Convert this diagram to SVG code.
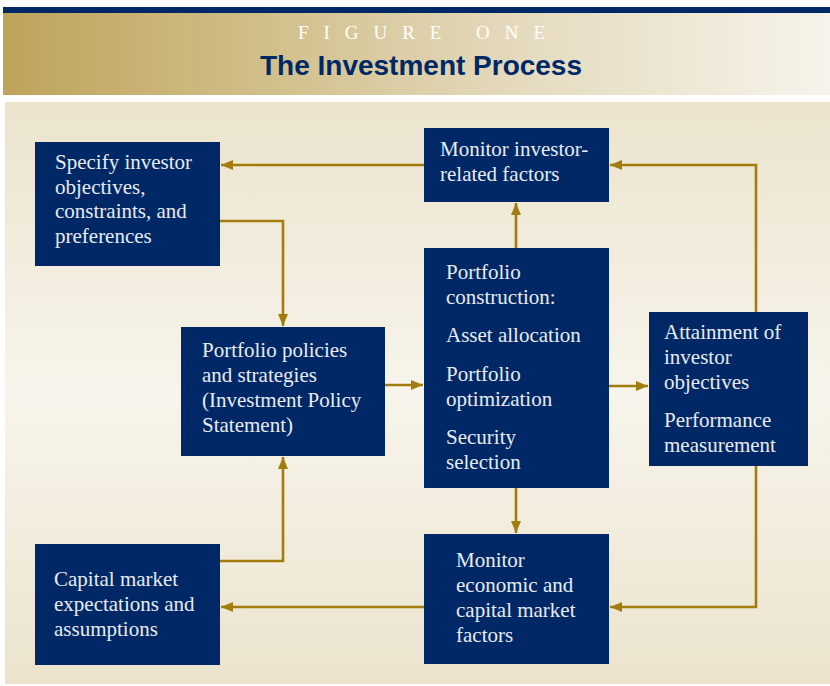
<svg xmlns="http://www.w3.org/2000/svg" width="830" height="686" viewBox="0 0 830 686">
  <defs>
    <linearGradient id="bandGrad" x1="0" y1="0" x2="1" y2="0">
      <stop offset="0" stop-color="#BEA35A"/>
      <stop offset="0.35" stop-color="#D3C28F"/>
      <stop offset="0.65" stop-color="#E6DCC2"/>
      <stop offset="1" stop-color="#F6F3EA"/>
    </linearGradient>
    <linearGradient id="panelGrad" x1="0" y1="0" x2="0" y2="1">
      <stop offset="0" stop-color="#EBE3CD"/>
      <stop offset="0.5" stop-color="#F7F4EB"/>
      <stop offset="1" stop-color="#EBE3CD"/>
    </linearGradient>
    <marker id="arrow" viewBox="0 0 12 10" refX="12" refY="5" markerWidth="12" markerHeight="10" markerUnits="userSpaceOnUse" orient="auto">
      <path d="M0,0 L12,5 L0,10 Z" fill="#A27D0E"/>
    </marker>
    <style>
      .box { fill: #002866; }
      .lbl { font-family: "Liberation Serif", "Times New Roman", serif; font-size: 21px; fill: #E8EBF2; }
      .wire { fill: none; stroke: #A27D0E; stroke-width: 2.6; }
      .arr { marker-end: url(#arrow); }
    </style>
  </defs>

  <!-- header -->
  <rect x="0" y="0" width="830" height="686" fill="#FFFFFF"/>
  <rect x="3" y="7" width="827" height="6" fill="#002866"/>
  <rect x="3" y="13" width="827" height="82" fill="url(#bandGrad)"/>
  <text x="298" y="38.5" textLength="247" lengthAdjust="spacing" font-family="Liberation Serif, serif" font-size="19" fill="#FFFFFF">FIGURE ONE</text>
  <text x="260" y="75" textLength="322" lengthAdjust="spacingAndGlyphs" font-family="Liberation Sans, Arial, sans-serif" font-weight="bold" font-size="28" fill="#002866">The Investment Process</text>

  <!-- panel -->
  <rect x="5" y="102" width="825" height="582" fill="url(#panelGrad)"/>

  <!-- connectors -->
  <g id="connectors">
    <path class="wire arr" d="M424,165 H221"/>
    <path class="wire arr" d="M220,221 H283 V326"/>
    <path class="wire arr" d="M220,561 H283 V457"/>
    <path class="wire arr" d="M385,385 H423"/>
    <path class="wire arr" d="M516,248 V203"/>
    <path class="wire arr" d="M516,488 V533"/>
    <path class="wire arr" d="M609,386 H648"/>
    <path class="wire arr" d="M756,312 V165 H610"/>
    <path class="wire arr" d="M756,466 V607 H610"/>
    <path class="wire arr" d="M424,607 H221"/>
  </g>

  <g id="specify">
    <rect class="box" x="35" y="142" width="185" height="124"/>
    <text class="lbl"><tspan x="55" y="169">Specify investor</tspan><tspan x="55" y="193.5">objectives,</tspan><tspan x="55" y="218">constraints, and</tspan><tspan x="55" y="243">preferences</tspan></text>
  </g>

  <g id="monitor-investor">
    <rect class="box" x="424" y="128" width="185" height="74"/>
    <text class="lbl"><tspan x="440" y="156">Monitor investor-</tspan><tspan x="440" y="180.5">related factors</tspan></text>
  </g>

  <g id="policies">
    <rect class="box" x="181" y="327" width="204" height="129"/>
    <text class="lbl"><tspan x="202" y="357">Portfolio policies</tspan><tspan x="202" y="382">and strategies</tspan><tspan x="202" y="407">(Investment Policy</tspan><tspan x="202" y="431.5">Statement)</tspan></text>
  </g>

  <g id="construction">
    <rect class="box" x="424" y="248" width="185" height="240"/>
    <text class="lbl"><tspan x="446" y="279">Portfolio</tspan><tspan x="446" y="304">construction:</tspan><tspan x="446" y="342">Asset allocation</tspan><tspan x="446" y="381">Portfolio</tspan><tspan x="446" y="406">optimization</tspan><tspan x="446" y="444">Security</tspan><tspan x="446" y="469">selection</tspan></text>
  </g>

  <g id="attainment">
    <rect class="box" x="649" y="312" width="159" height="154"/>
    <text class="lbl"><tspan x="664" y="339">Attainment of</tspan><tspan x="664" y="364">investor</tspan><tspan x="664" y="388.5">objectives</tspan><tspan x="664" y="427">Performance</tspan><tspan x="664" y="452">measurement</tspan></text>
  </g>

  <g id="capital-market">
    <rect class="box" x="35" y="544" width="185" height="121"/>
    <text class="lbl"><tspan x="54" y="586">Capital market</tspan><tspan x="54" y="611">expectations and</tspan><tspan x="54" y="636">assumptions</tspan></text>
  </g>

  <g id="monitor-economic">
    <rect class="box" x="424" y="534" width="185" height="130"/>
    <text class="lbl"><tspan x="456" y="567">Monitor</tspan><tspan x="456" y="592">economic and</tspan><tspan x="456" y="617">capital market</tspan><tspan x="456" y="642">factors</tspan></text>
  </g>
</svg>
